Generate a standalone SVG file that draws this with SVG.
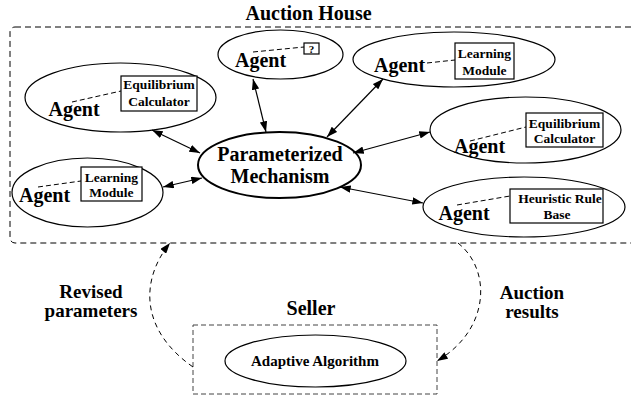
<svg xmlns="http://www.w3.org/2000/svg" width="631" height="398" viewBox="0 0 631 398">
<style>
text{font-family:"Liberation Serif","Times New Roman",serif;font-weight:bold;fill:#000;text-anchor:middle}
.ag{font-size:20px}
.bx{font-size:13.5px}
.big{font-size:20px}
.lb{font-size:19px}
.el{fill:none;stroke:#000;stroke-width:1.2}
.rb{fill:#fff;stroke:#000;stroke-width:1.2}
.dl{fill:none;stroke:#000;stroke-width:1;stroke-dasharray:5,3}
.con{fill:none;stroke:#000;stroke-width:1.2;marker-start:url(#ah);marker-end:url(#ah)}
.cur{fill:none;stroke:#000;stroke-width:1;stroke-dasharray:5,4;marker-end:url(#ah)}
</style>
<defs>
<marker id="ah" viewBox="0 0 10 7" refX="10" refY="3.5" markerWidth="11" markerHeight="7.5" markerUnits="userSpaceOnUse" orient="auto-start-reverse">
<path d="M0,0 L10,3.5 L0,7 z" fill="#000"/>
</marker>
</defs>
<g id="auction-house">
<rect x="10" y="27" width="640" height="216" rx="5" fill="none" stroke="#000" stroke-width="1" stroke-dasharray="6,4"/>
<text class="big" x="308.5" y="20">Auction House</text>
</g>
<g id="mechanism">
<ellipse cx="279.5" cy="165" rx="81.5" ry="33" fill="none" stroke="#000" stroke-width="2"/>
<text class="big" x="280" y="161">Parameterized</text>
<text class="big" x="280" y="183">Mechanism</text>
</g>
<g id="agent1">
<ellipse class="el" cx="120.5" cy="97.5" rx="95.5" ry="34.5"/>
<line class="dl" x1="72" y1="102" x2="121" y2="91"/>
<text class="ag" x="74" y="116">Agent</text>
<rect class="rb" x="121" y="76" width="76" height="35"/>
<text class="bx" x="159" y="89">Equilibrium</text>
<text class="bx" x="159" y="106">Calculator</text>
</g>
<g id="agent2">
<ellipse class="el" cx="280.5" cy="54.5" rx="62.5" ry="24.5"/>
<line class="dl" x1="253" y1="52" x2="304" y2="47"/>
<text class="ag" x="260.5" y="67">Agent</text>
<rect class="rb" x="304" y="43" width="15" height="11"/>
<text class="bx" x="311.5" y="53" style="font-size:11px">?</text>
</g>
<g id="agent3">
<ellipse class="el" cx="454" cy="59.5" rx="101" ry="27.5"/>
<line class="dl" x1="427" y1="63" x2="455" y2="60"/>
<text class="ag" x="399.5" y="72">Agent</text>
<rect class="rb" x="455" y="43" width="59" height="36"/>
<text class="bx" x="484.5" y="58">Learning</text>
<text class="bx" x="484.5" y="75">Module</text>
</g>
<g id="agent4">
<ellipse class="el" cx="525.5" cy="130" rx="95.5" ry="33"/>
<line class="dl" x1="470" y1="141" x2="526" y2="127"/>
<text class="ag" x="479.5" y="153">Agent</text>
<rect class="rb" x="526" y="113" width="77" height="34"/>
<text class="bx" x="564.5" y="128">Equilibrium</text>
<text class="bx" x="564.5" y="143">Calculator</text>
</g>
<g id="agent5">
<ellipse class="el" cx="524" cy="207" rx="101" ry="30"/>
<line class="dl" x1="457" y1="205" x2="510" y2="196"/>
<text class="ag" x="464" y="220">Agent</text>
<text class="bx" x="560" y="203">Heuristic Rule</text>
<rect x="510" y="189" width="93" height="34" fill="none" stroke="#000" stroke-width="1.2"/>
<text class="bx" x="557" y="219">Base</text>
</g>
<g id="agent6">
<ellipse class="el" cx="87.5" cy="192.5" rx="75.5" ry="34.5"/>
<line class="dl" x1="38" y1="187" x2="81" y2="181"/>
<text class="ag" x="44.5" y="202">Agent</text>
<rect class="rb" x="81" y="167" width="61" height="34"/>
<text class="bx" x="111.5" y="182">Learning</text>
<text class="bx" x="111.5" y="197">Module</text>
</g>
<g id="seller">
<rect x="193" y="325" width="244" height="69" fill="none" stroke="#444" stroke-width="1" stroke-dasharray="5,3"/>
<text class="big" x="311" y="315">Seller</text>
<ellipse class="el" cx="315.5" cy="361" rx="90.5" ry="26"/>
<text x="315" y="366" style="font-size:15px">Adaptive Algorithm</text>
</g>
<g id="labels">
<text class="lb" x="91" y="298">Revised</text>
<text class="lb" x="91" y="317">parameters</text>
<text class="lb" x="532" y="299">Auction</text>
<text class="lb" x="532" y="318">results</text>
</g>
<g id="connectors">
<line class="con" x1="152" y1="130" x2="200" y2="153"/>
<line class="con" x1="253" y1="79" x2="266" y2="132"/>
<line class="con" x1="383" y1="79" x2="327" y2="137"/>
<line class="con" x1="430" y1="132" x2="353" y2="153"/>
<line class="con" x1="423" y1="203" x2="340" y2="187"/>
<line class="con" x1="163" y1="187" x2="202" y2="178"/>
<path class="cur" d="M193,367 C140,330 140,280 170,243"/>
<path class="cur" d="M458,243 C492,270 490,330 437,361"/>
</g>
</svg>
